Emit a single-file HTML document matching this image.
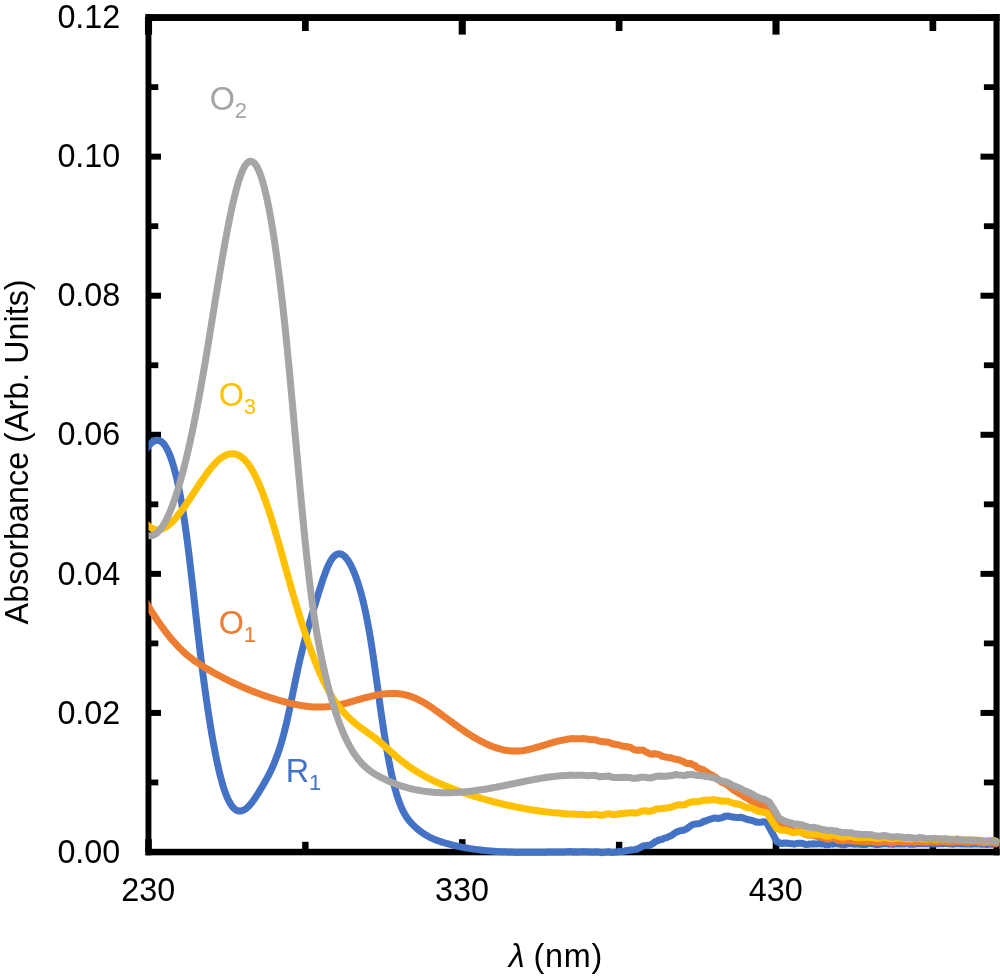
<!DOCTYPE html>
<html lang="en"><head><meta charset="utf-8"><title>Absorbance spectra</title>
<style>html,body{margin:0;padding:0;background:#fff}svg{display:block}</style></head>
<body>
<svg width="1000" height="978" viewBox="0 0 1000 978">
<rect width="1000" height="978" fill="#fff"/>
<g fill="#000"><rect x="144.95" y="17" width="7.1" height="17.6"/><rect x="145.20" y="839.2" width="6.6" height="12.8"/><rect x="302.02" y="17" width="6.7" height="14.0"/><rect x="302.18" y="841.8" width="6.4" height="10.2"/><rect x="458.70" y="17" width="7.1" height="17.6"/><rect x="458.95" y="839.2" width="6.6" height="12.8"/><rect x="615.77" y="17" width="6.7" height="14.0"/><rect x="615.92" y="841.8" width="6.4" height="10.2"/><rect x="772.45" y="17" width="7.1" height="17.6"/><rect x="772.70" y="839.2" width="6.6" height="12.8"/><rect x="929.52" y="17" width="6.7" height="14.0"/><rect x="929.67" y="841.8" width="6.4" height="10.2"/><rect x="148" y="849.00" width="13.0" height="6.0"/><rect x="980.5" y="849.00" width="16.5" height="6.0"/><rect x="148" y="779.57" width="10.3" height="5.8"/><rect x="983.9" y="779.57" width="13.1" height="5.8"/><rect x="148" y="709.93" width="13.0" height="6.0"/><rect x="980.5" y="709.93" width="16.5" height="6.0"/><rect x="148" y="640.50" width="10.3" height="5.8"/><rect x="983.9" y="640.50" width="13.1" height="5.8"/><rect x="148" y="570.86" width="13.0" height="6.0"/><rect x="980.5" y="570.86" width="16.5" height="6.0"/><rect x="148" y="501.43" width="10.3" height="5.8"/><rect x="983.9" y="501.43" width="13.1" height="5.8"/><rect x="148" y="431.79" width="13.0" height="6.0"/><rect x="980.5" y="431.79" width="16.5" height="6.0"/><rect x="148" y="362.35" width="10.3" height="5.8"/><rect x="983.9" y="362.35" width="13.1" height="5.8"/><rect x="148" y="292.72" width="13.0" height="6.0"/><rect x="980.5" y="292.72" width="16.5" height="6.0"/><rect x="148" y="223.29" width="10.3" height="5.8"/><rect x="983.9" y="223.29" width="13.1" height="5.8"/><rect x="148" y="153.65" width="13.0" height="6.0"/><rect x="980.5" y="153.65" width="16.5" height="6.0"/><rect x="148" y="84.22" width="10.3" height="5.8"/><rect x="983.9" y="84.22" width="13.1" height="5.8"/><rect x="148" y="14.58" width="13.0" height="6.0"/><rect x="980.5" y="14.58" width="16.5" height="6.0"/><rect x="145.5" y="14.1" width="5.9" height="841.2"/><rect x="993.5" y="14.1" width="6.1" height="841.2"/><rect x="145.5" y="14.1" width="854.1" height="6.9"/><rect x="145.5" y="848.8" width="854.1" height="6.5"/></g>
<clipPath id="c"><rect x="148.5" y="0" width="851.5" height="978"/></clipPath><g clip-path="url(#c)" fill="none" stroke-width="7.0" stroke-linejoin="round" stroke-linecap="round">
<path d="M140.50,456.23 L148.50,446.11 L149.75,444.62 L151.00,443.33 L152.25,442.25 L153.75,441.25 L155.25,440.57 L157.00,440.24 L158.75,440.41 L160.25,440.98 L161.75,441.97 L163.00,443.12 L164.25,444.58 L165.25,445.98 L166.25,447.60 L167.25,449.42 L168.00,450.94 L168.75,452.58 L169.50,454.36 L170.25,456.26 L171.00,458.30 L171.75,460.48 L172.25,462.00 L172.75,463.59 L173.25,465.25 L173.75,466.96 L174.25,468.74 L174.75,470.59 L175.25,472.50 L175.75,474.48 L176.25,476.53 L176.75,478.65 L177.25,480.83 L177.75,483.09 L178.25,485.43 L178.75,487.83 L179.25,490.31 L179.75,492.86 L180.25,495.49 L180.75,498.20 L181.25,500.98 L181.75,503.85 L182.25,506.79 L182.75,509.82 L183.25,512.92 L183.50,514.51 L183.75,516.11 L184.00,517.74 L184.25,519.39 L184.50,521.05 L184.75,522.74 L185.00,524.46 L185.25,526.19 L185.50,527.94 L185.75,529.72 L186.00,531.52 L186.25,533.34 L186.50,535.18 L186.75,537.05 L187.00,538.93 L187.25,540.84 L187.50,542.78 L187.75,544.73 L188.00,546.71 L188.25,548.70 L188.50,550.72 L188.75,552.75 L189.00,554.80 L189.25,556.87 L189.50,558.96 L189.75,561.06 L190.00,563.18 L190.25,565.31 L190.50,567.45 L190.75,569.61 L191.00,571.77 L191.25,573.95 L191.50,576.14 L191.75,578.34 L192.00,580.54 L192.25,582.75 L192.50,584.97 L192.75,587.20 L193.00,589.43 L193.25,591.66 L193.50,593.90 L193.75,596.14 L194.00,598.38 L194.25,600.62 L194.50,602.86 L194.75,605.10 L195.00,607.34 L195.25,609.58 L195.50,611.82 L195.75,614.05 L196.00,616.27 L196.25,618.49 L196.50,620.71 L196.75,622.91 L197.00,625.11 L197.25,627.30 L197.50,629.48 L197.75,631.65 L198.00,633.81 L198.25,635.95 L198.50,638.09 L198.75,640.21 L199.00,642.32 L199.25,644.42 L199.50,646.51 L199.75,648.59 L200.00,650.66 L200.25,652.71 L200.50,654.75 L200.75,656.78 L201.00,658.80 L201.25,660.81 L201.50,662.80 L201.75,664.78 L202.00,666.75 L202.25,668.71 L202.50,670.66 L202.75,672.59 L203.00,674.51 L203.25,676.42 L203.50,678.32 L203.75,680.20 L204.00,682.08 L204.25,683.94 L204.50,685.78 L204.75,687.62 L205.00,689.44 L205.25,691.25 L205.50,693.05 L205.75,694.84 L206.00,696.61 L206.25,698.37 L206.50,700.12 L206.75,701.85 L207.00,703.57 L207.25,705.28 L207.50,706.98 L207.75,708.66 L208.00,710.33 L208.25,711.99 L208.50,713.64 L208.75,715.27 L209.00,716.89 L209.25,718.49 L209.50,720.09 L210.00,723.23 L210.50,726.33 L211.00,729.37 L211.50,732.36 L212.00,735.29 L212.50,738.17 L213.00,740.99 L213.50,743.76 L214.00,746.48 L214.50,749.14 L215.00,751.75 L215.50,754.30 L216.00,756.79 L216.50,759.23 L217.00,761.61 L217.50,763.93 L218.00,766.20 L218.50,768.41 L219.00,770.56 L219.50,772.66 L220.00,774.69 L220.50,776.67 L221.00,778.59 L221.50,780.45 L222.00,782.25 L222.50,783.99 L223.00,785.67 L223.50,787.29 L224.00,788.85 L224.75,791.08 L225.50,793.17 L226.25,795.13 L227.00,796.97 L227.75,798.68 L228.50,800.26 L229.25,801.73 L230.25,803.50 L231.25,805.07 L232.25,806.45 L233.50,807.89 L234.75,809.06 L236.25,810.09 L237.75,810.75 L239.50,811.07 L241.25,810.95 L243.00,810.41 L244.50,809.65 L246.00,808.62 L247.25,807.58 L248.50,806.39 L249.75,805.05 L251.00,803.59 L252.00,802.33 L253.00,801.00 L254.00,799.61 L255.00,798.17 L256.00,796.67 L257.00,795.13 L258.00,793.54 L259.00,791.93 L260.00,790.29 L261.00,788.63 L262.00,786.96 L263.00,785.26 L264.00,783.55 L265.00,781.81 L266.00,780.02 L267.00,778.19 L268.00,776.31 L268.75,774.86 L269.50,773.38 L270.25,771.85 L271.00,770.28 L271.75,768.67 L272.50,767.01 L273.25,765.29 L274.00,763.52 L274.75,761.69 L275.50,759.80 L276.25,757.84 L277.00,755.82 L277.75,753.73 L278.50,751.56 L279.25,749.32 L279.75,747.78 L280.25,746.20 L280.75,744.58 L281.25,742.93 L281.75,741.24 L282.25,739.51 L282.75,737.74 L283.25,735.92 L283.75,734.07 L284.25,732.16 L284.75,730.22 L285.25,728.23 L285.75,726.19 L286.25,724.10 L286.75,721.97 L287.25,719.79 L287.75,717.56 L288.25,715.29 L288.75,712.98 L289.25,710.64 L289.75,708.27 L290.25,705.87 L290.75,703.45 L291.25,701.01 L291.75,698.56 L292.25,696.10 L292.75,693.63 L293.25,691.15 L293.75,688.68 L294.25,686.21 L294.75,683.75 L295.25,681.31 L295.75,678.88 L296.25,676.47 L296.75,674.09 L297.25,671.73 L297.75,669.41 L298.25,667.12 L298.75,664.87 L299.25,662.66 L299.75,660.48 L300.25,658.33 L300.75,656.21 L301.25,654.12 L301.75,652.06 L302.25,650.03 L302.75,648.03 L303.25,646.06 L303.75,644.11 L304.25,642.18 L304.75,640.28 L305.25,638.40 L305.75,636.54 L306.25,634.71 L306.75,632.89 L307.25,631.09 L307.75,629.30 L308.25,627.54 L308.75,625.79 L309.25,624.05 L309.75,622.32 L310.25,620.61 L310.75,618.91 L311.25,617.22 L311.75,615.54 L312.25,613.86 L312.75,612.20 L313.25,610.54 L313.75,608.88 L314.25,607.23 L314.75,605.58 L315.25,603.93 L315.75,602.28 L316.25,600.63 L316.75,598.99 L317.25,597.34 L317.75,595.70 L318.25,594.07 L318.75,592.44 L319.25,590.82 L319.75,589.21 L320.25,587.62 L320.75,586.05 L321.25,584.49 L321.75,582.95 L322.50,580.68 L323.25,578.46 L324.00,576.31 L324.75,574.22 L325.50,572.21 L326.25,570.27 L327.00,568.43 L327.75,566.67 L328.50,565.02 L329.25,563.47 L330.00,562.04 L331.00,560.31 L332.00,558.79 L333.00,557.47 L334.25,556.12 L335.50,555.07 L337.00,554.22 L338.75,553.76 L340.50,553.88 L342.25,554.55 L343.75,555.55 L345.00,556.68 L346.25,558.07 L347.25,559.37 L348.25,560.83 L349.25,562.45 L350.25,564.22 L351.00,565.65 L351.75,567.16 L352.50,568.76 L353.25,570.43 L354.00,572.19 L354.75,574.03 L355.50,575.96 L356.25,577.99 L357.00,580.10 L357.75,582.32 L358.25,583.85 L358.75,585.43 L359.25,587.06 L359.75,588.73 L360.25,590.46 L360.75,592.24 L361.25,594.07 L361.75,595.95 L362.25,597.89 L362.75,599.88 L363.25,601.93 L363.75,604.04 L364.25,606.21 L364.75,608.44 L365.25,610.72 L365.75,613.07 L366.25,615.49 L366.75,617.96 L367.25,620.51 L367.75,623.12 L368.25,625.79 L368.75,628.54 L369.25,631.36 L369.75,634.24 L370.25,637.20 L370.75,640.23 L371.25,643.34 L371.50,644.92 L371.75,646.52 L372.00,648.14 L372.25,649.78 L372.50,651.43 L372.75,653.10 L373.00,654.78 L373.25,656.48 L373.50,658.19 L373.75,659.91 L374.00,661.64 L374.25,663.39 L374.50,665.14 L374.75,666.91 L375.00,668.68 L375.25,670.47 L375.50,672.26 L375.75,674.05 L376.00,675.86 L376.25,677.67 L376.50,679.48 L376.75,681.29 L377.00,683.11 L377.25,684.93 L377.50,686.76 L377.75,688.58 L378.00,690.40 L378.25,692.23 L378.50,694.05 L378.75,695.87 L379.00,697.68 L379.25,699.49 L379.50,701.30 L379.75,703.10 L380.00,704.90 L380.25,706.69 L380.50,708.47 L380.75,710.24 L381.00,712.00 L381.25,713.76 L381.50,715.50 L381.75,717.24 L382.00,718.96 L382.25,720.66 L382.50,722.36 L382.75,724.04 L383.00,725.71 L383.25,727.36 L383.50,729.00 L383.75,730.62 L384.00,732.24 L384.25,733.84 L384.50,735.42 L385.00,738.55 L385.50,741.62 L386.00,744.63 L386.50,747.59 L387.00,750.48 L387.50,753.32 L388.00,756.10 L388.50,758.82 L389.00,761.48 L389.50,764.08 L390.00,766.62 L390.50,769.09 L391.00,771.51 L391.50,773.85 L392.00,776.14 L392.50,778.36 L393.00,780.52 L393.50,782.61 L394.00,784.64 L394.50,786.60 L395.00,788.49 L395.50,790.32 L396.00,792.08 L396.50,793.78 L397.00,795.42 L397.50,797.00 L398.00,798.52 L398.75,800.69 L399.50,802.75 L400.25,804.68 L401.00,806.51 L401.75,808.23 L402.50,809.85 L403.25,811.37 L404.00,812.80 L405.00,814.58 L406.00,816.22 L407.00,817.73 L408.00,819.14 L409.00,820.44 L410.25,821.94 L411.50,823.33 L412.75,824.63 L414.00,825.87 L415.25,827.05 L416.50,828.18 L417.75,829.25 L419.00,830.27 L420.50,831.43 L422.00,832.52 L423.50,833.54 L425.00,834.51 L426.50,835.41 L428.00,836.26 L429.50,837.06 L431.00,837.81 L432.50,838.51 L434.00,839.17 L435.50,839.79 L437.00,840.37 L438.75,841.02 L440.50,841.62 L442.25,842.18 L444.00,842.72 L445.75,843.24 L447.50,843.73 L449.25,844.21 L451.00,844.67 L452.75,845.11 L454.50,845.53 L456.25,845.94 L458.00,846.33 L459.75,846.70 L461.50,847.06 L463.25,847.41 L465.00,847.73 L466.75,848.05 L468.50,848.35 L470.25,848.63 L472.00,848.90 L473.75,849.16 L475.50,849.40 L477.25,849.64 L479.00,849.85 L480.75,850.06 L482.50,850.26 L484.25,850.44 L486.00,850.61 L487.75,850.77 L489.50,850.92 L491.25,851.07 L493.00,851.20 L494.75,851.32 L496.50,851.43 L498.25,851.54 L500.00,851.63 L501.75,851.72 L503.50,851.80 L505.25,851.87 L507.00,851.94 L508.75,851.99 L510.50,852.05 L512.25,852.09 L514.00,852.13 L515.75,852.17 L517.50,852.19 L519.25,852.22 L521.00,852.23 L522.75,852.25 L524.50,852.26 L526.25,852.26 L528.00,852.26 L529.75,852.26 L531.50,852.25 L533.25,852.24 L535.00,852.23 L536.75,852.22 L538.50,852.20 L540.25,852.18 L542.00,852.17 L543.75,852.16 L545.50,852.14 L547.25,852.06 L549.00,851.97 L550.75,852.01 L552.50,851.97 L554.25,852.00 L556.00,852.00 L557.75,851.97 L559.50,851.92 L561.25,851.95 L563.00,851.94 L564.75,851.91 L566.50,851.74 L568.25,851.72 L570.00,851.57 L571.75,851.65 L573.50,851.88 L575.25,851.80 L577.00,852.05 L578.75,851.88 L580.50,851.86 L582.25,851.59 L584.00,851.69 L585.75,851.70 L587.50,851.71 L589.25,852.12 L591.00,852.03 L592.75,852.06 L594.50,852.09 L596.25,851.83 L598.00,852.06 L599.75,852.03 L601.50,852.66 L603.25,852.23 L605.00,852.23 L606.75,852.05 L608.50,851.64 L610.25,852.14 L612.00,852.42 L613.75,852.36 L615.50,852.13 L617.25,851.95 L619.00,851.52 L620.75,851.37 L622.50,851.54 L624.25,851.26 L626.00,850.58 L627.75,850.69 L629.50,850.25 L631.25,849.85 L633.00,849.92 L634.75,849.63 L636.50,849.25 L638.25,848.56 L640.00,847.86 L641.75,846.63 L643.50,845.77 L645.25,845.77 L647.00,845.27 L648.75,845.54 L650.25,845.12 L651.75,844.05 L653.25,843.37 L654.75,842.00 L656.25,841.28 L657.75,840.74 L659.25,839.72 L660.75,839.72 L662.25,839.31 L663.75,838.32 L665.25,837.98 L666.75,837.57 L668.25,836.85 L669.75,836.19 L671.25,835.59 L672.75,834.65 L674.25,833.39 L675.75,832.43 L677.25,831.59 L678.75,831.31 L680.25,830.63 L681.75,830.35 L683.25,830.38 L684.75,829.63 L686.25,828.98 L687.75,827.98 L689.25,826.96 L690.75,825.69 L692.25,824.75 L693.75,824.37 L695.25,823.95 L696.75,823.95 L698.25,823.61 L700.00,823.42 L701.75,822.58 L703.50,821.30 L705.25,821.31 L707.00,820.16 L708.75,819.82 L710.50,819.09 L712.25,818.63 L714.00,818.06 L715.75,817.96 L717.50,818.54 L719.25,818.23 L721.00,818.01 L722.75,817.50 L724.50,816.30 L726.25,816.25 L728.00,816.03 L729.75,816.43 L731.50,816.75 L733.25,817.23 L735.00,817.30 L736.75,817.40 L738.50,817.62 L740.25,817.29 L742.00,817.63 L743.75,818.17 L745.50,818.87 L747.25,819.33 L749.00,819.95 L750.75,820.09 L752.50,820.57 L754.25,821.13 L756.00,822.12 L757.75,822.22 L759.50,822.33 L761.25,822.30 L763.00,821.72 L764.75,822.05 L766.50,822.42 L771.80,832.00 L776.90,841.79 L782.00,843.58 L783.75,843.07 L785.50,843.29 L787.25,843.04 L789.00,843.61 L790.75,843.62 L792.50,843.83 L794.25,844.15 L796.00,843.72 L797.75,843.33 L799.50,843.37 L801.25,843.14 L803.00,843.53 L804.75,844.18 L806.50,844.43 L808.25,844.29 L810.00,844.04 L811.75,843.92 L813.50,843.67 L815.25,843.94 L817.00,843.92 L818.75,843.56 L820.50,843.79 L822.25,843.92 L824.00,843.96 L825.75,844.68 L827.50,844.64 L829.25,844.55 L831.00,843.90 L832.75,844.16 L834.50,843.48 L836.25,843.55 L838.00,844.02 L839.75,843.98 L841.50,844.71 L843.25,844.72 L845.00,844.68 L846.75,844.22 L848.50,843.73 L850.25,843.84 L852.00,843.70 L853.75,844.22 L855.50,844.18 L857.25,843.89 L859.00,844.24 L860.75,844.38 L862.50,844.58 L864.25,844.24 L866.00,844.41 L867.75,843.77 L869.50,843.53 L871.25,843.67 L873.00,844.05 L874.75,844.08 L876.50,844.66 L878.25,844.42 L880.00,844.21 L881.75,844.04 L883.50,843.86 L885.25,843.68 L887.00,843.75 L888.75,844.19 L890.50,843.85 L892.25,844.22 L894.00,844.29 L895.75,843.72 L897.50,844.03 L899.25,843.83 L901.00,843.89 L902.75,843.89 L904.50,843.89 L906.25,843.81 L908.00,843.37 L909.75,844.25 L911.50,844.06 L913.25,844.16 L915.00,844.21 L916.75,843.70 L918.50,843.56 L920.25,843.69 L922.00,843.79 L923.75,843.82 L925.50,843.82 L927.25,843.83 L929.00,843.71 L930.75,843.73 L932.50,844.01 L934.25,843.71 L936.00,843.91 L937.75,843.81 L939.50,843.81 L941.25,843.78 L943.00,843.87 L944.75,843.57 L946.50,843.61 L948.25,843.89 L950.00,844.11 L951.75,843.84 L953.50,844.22 L955.25,843.52 L957.00,843.77 L958.75,843.84 L960.50,843.97 L962.25,844.00 L964.00,843.79 L965.75,844.15 L967.50,843.72 L969.25,844.12 L971.00,844.24 L972.75,843.91 L974.50,844.08 L976.25,843.92 L978.00,844.01 L979.75,844.13 L981.50,844.18 L983.25,844.37 L985.00,844.11 L986.75,844.60 L988.50,844.14 L990.25,844.14 L992.00,844.22 L993.75,844.09 L995.50,844.03 L996.00,844.06" stroke="#4472C4"/>
<path d="M140.50,593.49 L148.50,606.54 L149.50,608.16 L150.50,609.76 L151.50,611.35 L152.50,612.92 L153.50,614.46 L154.50,616.00 L155.50,617.51 L156.50,619.00 L157.50,620.47 L158.50,621.93 L159.50,623.37 L160.50,624.78 L161.50,626.18 L162.50,627.56 L163.50,628.92 L164.50,630.25 L165.50,631.57 L166.50,632.87 L167.50,634.15 L168.50,635.41 L169.75,636.95 L171.00,638.46 L172.25,639.94 L173.50,641.39 L174.75,642.81 L176.00,644.19 L177.25,645.53 L178.50,646.85 L179.75,648.13 L181.00,649.38 L182.25,650.59 L183.50,651.77 L184.75,652.91 L186.00,654.02 L187.25,655.10 L188.50,656.14 L189.75,657.16 L191.25,658.34 L192.75,659.48 L194.25,660.58 L195.75,661.65 L197.25,662.69 L198.75,663.69 L200.25,664.68 L201.75,665.63 L203.25,666.57 L204.75,667.48 L206.25,668.38 L207.75,669.27 L209.25,670.14 L210.75,671.00 L212.25,671.86 L213.75,672.70 L215.25,673.53 L216.75,674.36 L218.25,675.17 L219.75,675.97 L221.25,676.77 L222.75,677.55 L224.25,678.33 L225.75,679.10 L227.25,679.85 L228.75,680.60 L230.25,681.34 L231.75,682.07 L233.25,682.78 L234.75,683.49 L236.25,684.19 L237.75,684.88 L239.25,685.56 L240.75,686.24 L242.25,686.90 L243.75,687.55 L245.25,688.20 L246.75,688.83 L248.25,689.46 L249.75,690.07 L251.25,690.68 L252.75,691.28 L254.25,691.87 L255.75,692.45 L257.25,693.02 L258.75,693.58 L260.50,694.22 L262.25,694.85 L264.00,695.47 L265.75,696.08 L267.50,696.67 L269.25,697.26 L271.00,697.83 L272.75,698.39 L274.50,698.93 L276.25,699.47 L278.00,699.99 L279.75,700.50 L281.50,701.00 L283.25,701.49 L285.00,701.96 L286.75,702.42 L288.50,702.86 L290.25,703.28 L292.00,703.69 L293.75,704.08 L295.50,704.45 L297.25,704.80 L299.00,705.13 L300.75,705.44 L302.50,705.72 L304.25,705.98 L306.00,706.22 L307.75,706.43 L309.50,706.61 L311.25,706.76 L313.00,706.89 L314.75,706.98 L316.50,707.05 L318.25,707.08 L320.00,707.08 L321.75,707.05 L323.50,706.98 L325.25,706.88 L327.00,706.74 L328.75,706.57 L330.50,706.35 L332.25,706.10 L334.00,705.82 L335.75,705.51 L337.50,705.16 L339.25,704.79 L341.00,704.40 L342.75,703.98 L344.50,703.55 L346.25,703.09 L348.00,702.63 L349.75,702.15 L351.50,701.66 L353.25,701.17 L355.00,700.67 L356.75,700.17 L358.50,699.67 L360.25,699.17 L362.00,698.68 L363.75,698.19 L365.50,697.72 L367.25,697.25 L369.00,696.81 L370.75,696.38 L372.50,695.97 L374.25,695.58 L376.00,695.22 L377.75,694.88 L379.50,694.57 L381.25,694.30 L383.00,694.06 L384.75,693.86 L386.50,693.69 L388.25,693.56 L390.00,693.48 L391.75,693.44 L393.50,693.45 L395.25,693.50 L397.00,693.61 L398.75,693.77 L400.50,693.98 L402.25,694.25 L404.00,694.58 L405.75,694.96 L407.50,695.41 L409.25,695.93 L411.00,696.50 L412.75,697.15 L414.25,697.76 L415.75,698.41 L417.25,699.10 L418.75,699.83 L420.25,700.61 L421.75,701.42 L423.25,702.26 L424.75,703.14 L426.25,704.05 L427.75,704.98 L429.25,705.95 L430.75,706.93 L432.25,707.94 L433.75,708.97 L435.25,710.02 L436.75,711.09 L438.25,712.16 L439.75,713.25 L441.25,714.35 L442.75,715.46 L444.25,716.58 L445.75,717.69 L447.25,718.81 L448.75,719.93 L450.25,721.05 L451.75,722.16 L453.25,723.27 L454.75,724.37 L456.25,725.45 L457.75,726.53 L459.25,727.60 L460.75,728.65 L462.25,729.69 L463.75,730.72 L465.25,731.73 L466.75,732.72 L468.25,733.70 L469.75,734.66 L471.25,735.61 L472.75,736.53 L474.25,737.43 L475.75,738.32 L477.25,739.18 L478.75,740.01 L480.25,740.83 L481.75,741.62 L483.25,742.39 L484.75,743.13 L486.25,743.84 L487.75,744.52 L489.25,745.18 L490.75,745.80 L492.25,746.40 L493.75,746.97 L495.50,747.58 L497.25,748.16 L499.00,748.68 L500.75,749.16 L502.50,749.59 L504.25,749.97 L506.00,750.30 L507.75,750.57 L509.50,750.79 L511.25,750.96 L513.00,751.06 L514.75,751.11 L516.50,751.10 L518.25,751.03 L520.00,750.89 L521.75,750.71 L523.50,750.47 L525.25,750.19 L527.00,749.86 L528.75,749.49 L530.50,749.09 L532.25,748.66 L534.00,748.20 L535.75,747.71 L537.50,747.21 L539.25,746.68 L541.00,746.15 L542.75,745.60 L544.50,745.07 L546.25,744.53 L548.00,743.97 L549.75,743.41 L551.50,742.91 L553.25,742.36 L555.00,741.81 L556.75,741.44 L558.50,740.98 L560.25,740.61 L562.00,740.19 L563.75,739.93 L565.50,739.57 L567.25,739.24 L569.00,739.05 L570.75,738.67 L572.50,738.59 L574.25,738.67 L576.00,738.78 L577.75,738.78 L579.50,738.68 L581.25,738.86 L583.00,738.55 L584.75,738.69 L586.50,738.96 L588.25,739.25 L590.00,739.60 L591.75,739.68 L593.50,739.77 L595.25,739.85 L597.00,740.27 L598.75,740.96 L600.50,741.31 L602.25,741.72 L604.00,741.83 L605.75,741.91 L607.50,741.93 L609.25,742.58 L611.00,743.28 L612.75,743.99 L614.50,744.07 L616.25,744.62 L618.00,744.65 L619.75,745.07 L621.50,745.91 L623.25,746.19 L625.00,746.64 L626.75,746.51 L628.50,747.13 L630.25,747.21 L632.00,748.33 L633.75,749.50 L635.50,749.86 L637.25,750.41 L639.00,750.07 L640.75,750.14 L642.50,749.94 L644.25,750.68 L646.00,752.04 L647.75,752.60 L649.50,753.71 L651.25,753.94 L653.00,754.22 L654.75,753.62 L656.50,754.07 L658.25,754.35 L660.00,754.78 L661.75,756.04 L663.50,756.53 L665.25,757.08 L667.00,757.21 L668.75,757.80 L670.50,757.67 L672.25,758.26 L674.00,758.90 L675.75,759.23 L677.50,759.55 L679.25,759.83 L681.00,760.81 L682.75,761.18 L684.50,762.43 L686.25,763.27 L688.00,763.40 L689.50,763.65 L691.00,763.52 L692.50,764.60 L694.00,765.24 L695.50,765.84 L697.00,767.49 L698.50,768.12 L700.00,768.58 L701.50,769.50 L703.00,769.61 L704.50,770.69 L706.00,771.57 L707.50,772.32 L709.00,773.96 L710.50,774.55 L712.00,774.82 L713.50,776.23 L715.00,776.77 L716.50,778.02 L718.00,779.37 L719.50,780.38 L721.00,781.96 L722.50,782.70 L724.00,782.87 L725.50,784.02 L727.00,784.65 L728.50,785.78 L730.00,787.11 L731.50,788.34 L733.00,789.82 L734.50,790.67 L736.00,791.35 L737.50,792.49 L739.00,793.28 L740.50,794.16 L742.00,795.13 L743.50,795.94 L745.00,797.26 L746.50,797.88 L748.00,798.52 L749.50,799.84 L751.00,800.58 L752.50,801.26 L754.00,802.16 L755.50,802.56 L757.00,803.48 L758.50,803.89 L760.00,804.32 L761.50,805.49 L763.25,805.68 L765.00,806.52 L766.75,806.70 L771.50,812.56 L776.00,820.77 L782.00,826.02 L783.50,825.99 L785.00,826.79 L786.50,827.40 L788.00,827.66 L789.50,828.88 L791.25,829.95 L793.00,830.64 L794.75,831.00 L796.50,831.04 L798.25,831.34 L800.00,831.16 L801.75,832.46 L803.50,833.39 L805.25,834.37 L807.00,834.85 L808.75,835.24 L810.50,835.12 L812.25,834.93 L814.00,835.87 L815.75,836.13 L817.50,836.63 L819.25,836.74 L821.00,837.40 L822.75,837.38 L824.50,838.08 L826.25,838.89 L828.00,838.70 L829.75,838.94 L831.50,838.51 L833.25,838.60 L835.00,838.67 L836.75,839.47 L838.50,840.46 L840.25,840.38 L842.00,840.86 L843.75,840.42 L845.50,840.39 L847.25,840.06 L849.00,840.41 L850.75,840.85 L852.50,840.68 L854.25,841.29 L856.00,841.32 L857.75,841.31 L859.50,841.37 L861.25,841.49 L863.00,841.60 L864.75,841.37 L866.50,841.72 L868.25,841.55 L870.00,841.42 L871.75,841.45 L873.50,841.91 L875.25,842.02 L877.00,842.31 L878.75,842.43 L880.50,842.32 L882.25,841.65 L884.00,841.55 L885.75,841.69 L887.50,841.43 L889.25,842.33 L891.00,842.81 L892.75,842.75 L894.50,842.33 L896.25,841.86 L898.00,841.77 L899.75,841.60 L901.50,842.06 L903.25,842.28 L905.00,842.05 L906.75,842.25 L908.50,842.20 L910.25,842.11 L912.00,842.07 L913.75,842.32 L915.50,842.17 L917.25,841.73 L919.00,841.82 L920.75,841.96 L922.50,842.05 L924.25,842.08 L926.00,842.17 L927.75,841.98 L929.50,841.60 L931.25,841.79 L933.00,841.80 L934.75,841.90 L936.50,842.21 L938.25,842.14 L940.00,841.64 L941.75,841.66 L943.50,841.82 L945.25,841.74 L947.00,841.90 L948.75,842.32 L950.50,842.16 L952.25,841.91 L954.00,842.01 L955.75,841.85 L957.50,841.85 L959.25,841.50 L961.00,841.82 L962.75,841.82 L964.50,842.12 L966.25,842.60 L968.00,842.45 L969.75,842.34 L971.50,841.81 L973.25,841.87 L975.00,841.57 L976.75,841.99 L978.50,842.69 L980.25,842.75 L982.00,842.81 L983.75,843.02 L985.50,842.77 L987.25,842.52 L989.00,842.63 L990.75,842.76 L992.50,842.87 L994.25,842.90 L996.00,843.58" stroke="#ED7D31"/>
<path d="M140.50,519.07 L148.50,525.99 L150.00,527.16 L151.50,528.11 L153.00,528.83 L154.75,529.40 L156.50,529.68 L158.25,529.70 L160.00,529.46 L161.75,528.98 L163.25,528.39 L164.75,527.63 L166.25,526.73 L167.75,525.68 L169.25,524.49 L170.50,523.40 L171.75,522.23 L173.00,520.99 L174.25,519.66 L175.50,518.27 L176.75,516.81 L178.00,515.29 L179.00,514.04 L180.00,512.75 L181.00,511.43 L182.00,510.08 L183.00,508.70 L184.00,507.30 L185.00,505.88 L186.00,504.43 L187.00,502.97 L188.00,501.49 L189.00,500.00 L190.00,498.49 L191.00,496.98 L192.00,495.46 L193.00,493.93 L194.00,492.40 L195.00,490.87 L196.00,489.34 L197.00,487.82 L198.00,486.30 L199.00,484.79 L200.00,483.29 L201.00,481.80 L202.00,480.32 L203.00,478.87 L204.00,477.43 L205.00,476.01 L206.00,474.62 L207.00,473.25 L208.00,471.91 L209.00,470.61 L210.00,469.33 L211.25,467.78 L212.50,466.29 L213.75,464.87 L215.00,463.51 L216.25,462.22 L217.50,461.00 L218.75,459.87 L220.00,458.82 L221.50,457.68 L223.00,456.67 L224.50,455.80 L226.00,455.07 L227.50,454.49 L229.25,454.00 L231.00,453.73 L232.75,453.68 L234.50,453.86 L236.25,454.27 L238.00,454.93 L239.50,455.70 L241.00,456.65 L242.50,457.80 L243.75,458.91 L245.00,460.16 L246.25,461.55 L247.50,463.08 L248.50,464.42 L249.50,465.86 L250.50,467.38 L251.50,469.01 L252.50,470.73 L253.50,472.54 L254.25,473.95 L255.00,475.42 L255.75,476.94 L256.50,478.50 L257.25,480.11 L258.00,481.77 L258.75,483.48 L259.50,485.23 L260.25,487.02 L261.00,488.86 L261.75,490.75 L262.50,492.67 L263.25,494.64 L264.00,496.65 L264.75,498.70 L265.50,500.79 L266.25,502.92 L267.00,505.09 L267.75,507.30 L268.50,509.54 L269.25,511.82 L269.75,513.36 L270.25,514.92 L270.75,516.49 L271.25,518.08 L271.75,519.68 L272.25,521.29 L272.75,522.92 L273.25,524.56 L273.75,526.22 L274.25,527.89 L274.75,529.56 L275.25,531.25 L275.75,532.95 L276.25,534.66 L276.75,536.38 L277.25,538.11 L277.75,539.85 L278.25,541.59 L278.75,543.35 L279.25,545.10 L279.75,546.87 L280.25,548.64 L280.75,550.41 L281.25,552.19 L281.75,553.98 L282.25,555.77 L282.75,557.56 L283.25,559.35 L283.75,561.15 L284.25,562.94 L284.75,564.74 L285.25,566.54 L285.75,568.33 L286.25,570.13 L286.75,571.93 L287.25,573.72 L287.75,575.51 L288.25,577.30 L288.75,579.08 L289.25,580.86 L289.75,582.64 L290.25,584.41 L290.75,586.17 L291.25,587.93 L291.75,589.69 L292.25,591.43 L292.75,593.17 L293.25,594.90 L293.75,596.62 L294.25,598.34 L294.75,600.04 L295.25,601.74 L295.75,603.43 L296.25,605.11 L296.75,606.78 L297.25,608.45 L297.75,610.10 L298.25,611.75 L298.75,613.39 L299.25,615.02 L299.75,616.63 L300.25,618.25 L300.75,619.85 L301.25,621.44 L301.75,623.02 L302.25,624.59 L302.75,626.15 L303.25,627.70 L303.75,629.25 L304.25,630.78 L304.75,632.30 L305.50,634.56 L306.25,636.80 L307.00,639.02 L307.75,641.21 L308.50,643.37 L309.25,645.51 L310.00,647.63 L310.75,649.72 L311.50,651.78 L312.25,653.82 L313.00,655.82 L313.75,657.80 L314.50,659.76 L315.25,661.68 L316.00,663.58 L316.75,665.45 L317.50,667.28 L318.25,669.09 L319.00,670.87 L319.75,672.62 L320.50,674.34 L321.25,676.02 L322.00,677.67 L322.75,679.30 L323.50,680.89 L324.25,682.44 L325.00,683.97 L325.75,685.46 L326.50,686.91 L327.25,688.34 L328.25,690.18 L329.25,691.97 L330.25,693.71 L331.25,695.39 L332.25,697.01 L333.25,698.59 L334.25,700.11 L335.25,701.59 L336.25,703.02 L337.25,704.41 L338.25,705.75 L339.25,707.05 L340.25,708.31 L341.50,709.83 L342.75,711.29 L344.00,712.69 L345.25,714.05 L346.50,715.35 L347.75,716.61 L349.00,717.82 L350.25,718.99 L351.50,720.12 L352.75,721.22 L354.00,722.28 L355.25,723.32 L356.50,724.33 L358.00,725.51 L359.50,726.66 L361.00,727.78 L362.50,728.89 L364.00,729.98 L365.50,731.06 L367.00,732.14 L368.50,733.22 L370.00,734.31 L371.50,735.41 L373.00,736.52 L374.50,737.65 L376.00,738.81 L377.50,740.00 L378.75,741.02 L380.00,742.07 L381.25,743.13 L382.50,744.22 L383.75,745.32 L385.00,746.43 L386.25,747.56 L387.50,748.68 L388.75,749.81 L390.00,750.95 L391.25,752.07 L392.50,753.19 L393.75,754.31 L395.00,755.40 L396.25,756.49 L397.50,757.55 L398.75,758.59 L400.00,759.61 L401.25,760.61 L402.75,761.79 L404.25,762.94 L405.75,764.06 L407.25,765.16 L408.75,766.23 L410.25,767.27 L411.75,768.29 L413.25,769.29 L414.75,770.26 L416.25,771.21 L417.75,772.14 L419.25,773.04 L420.75,773.93 L422.25,774.79 L423.75,775.63 L425.25,776.46 L426.75,777.26 L428.25,778.05 L429.75,778.82 L431.25,779.57 L432.75,780.30 L434.25,781.02 L435.75,781.73 L437.25,782.41 L438.75,783.09 L440.25,783.75 L441.75,784.40 L443.25,785.03 L444.75,785.66 L446.25,786.27 L447.75,786.87 L449.25,787.46 L450.75,788.04 L452.25,788.61 L453.75,789.17 L455.50,789.82 L457.25,790.46 L459.00,791.09 L460.75,791.71 L462.50,792.32 L464.25,792.92 L466.00,793.52 L467.75,794.10 L469.50,794.68 L471.25,795.25 L473.00,795.81 L474.75,796.36 L476.50,796.91 L478.25,797.44 L480.00,797.97 L481.75,798.49 L483.50,799.00 L485.25,799.50 L487.00,800.00 L488.75,800.48 L490.50,800.96 L492.25,801.43 L494.00,801.89 L495.75,802.34 L497.50,802.78 L499.25,803.22 L501.00,803.65 L502.75,804.07 L504.50,804.48 L506.25,804.88 L508.00,805.28 L509.75,805.66 L511.50,806.04 L513.25,806.41 L515.00,806.77 L516.75,807.13 L518.50,807.47 L520.25,807.81 L522.00,808.14 L523.75,808.46 L525.50,808.78 L527.25,809.08 L529.00,809.38 L530.75,809.67 L532.50,809.95 L534.25,810.22 L536.00,810.48 L537.75,810.74 L539.50,810.99 L541.25,811.23 L543.00,811.47 L544.75,811.70 L546.50,811.88 L548.25,812.11 L550.00,812.34 L551.75,812.52 L553.50,812.67 L555.25,812.87 L557.00,812.99 L558.75,813.08 L560.50,813.30 L562.25,813.50 L564.00,813.68 L565.75,813.84 L567.50,814.01 L569.25,813.93 L571.00,814.02 L572.75,814.05 L574.50,814.29 L576.25,814.36 L578.00,814.49 L579.75,814.42 L581.50,814.57 L583.25,814.54 L585.00,814.63 L586.75,814.87 L588.50,814.88 L590.25,814.76 L592.00,814.61 L593.75,814.36 L595.50,814.27 L597.25,814.70 L599.00,814.94 L600.75,815.26 L602.50,815.11 L604.25,814.84 L606.00,814.05 L607.75,813.86 L609.50,813.80 L611.25,814.38 L613.00,814.43 L614.75,814.62 L616.50,814.32 L618.25,814.23 L620.00,813.62 L621.75,813.61 L623.50,813.53 L625.25,813.33 L627.00,813.01 L628.75,812.97 L630.50,812.70 L632.25,812.75 L634.00,813.01 L635.75,812.94 L637.50,812.72 L639.25,812.02 L641.00,811.53 L642.75,810.88 L644.50,810.81 L646.25,810.65 L648.00,811.46 L649.75,811.10 L651.50,811.02 L653.25,810.39 L655.00,809.70 L656.75,808.77 L658.50,808.80 L660.25,808.70 L662.00,808.57 L663.75,808.32 L665.50,808.15 L667.25,807.88 L669.00,807.57 L670.75,807.17 L672.50,806.58 L674.25,806.17 L676.00,805.18 L677.75,805.01 L679.50,804.81 L681.25,804.92 L683.00,804.71 L684.75,804.87 L686.50,803.78 L688.25,803.01 L690.00,802.26 L691.75,801.98 L693.50,801.56 L695.25,801.83 L697.00,801.61 L698.75,801.50 L700.50,801.04 L702.25,800.50 L704.00,800.15 L705.75,800.13 L707.50,800.21 L709.25,800.12 L711.00,800.00 L712.75,799.60 L714.50,799.84 L716.25,799.98 L718.00,800.18 L719.75,800.71 L721.50,801.24 L723.25,800.83 L725.00,800.93 L726.75,801.17 L728.50,801.47 L730.25,802.11 L732.00,802.91 L733.75,803.32 L735.50,803.88 L737.25,803.85 L739.00,804.38 L740.75,804.95 L742.50,805.58 L744.25,806.42 L746.00,807.27 L747.75,807.65 L749.50,807.73 L751.25,808.23 L753.00,808.73 L754.75,809.54 L756.50,810.65 L758.25,811.38 L760.00,811.47 L761.75,811.94 L763.50,812.07 L765.25,812.62 L767.00,812.96 L771.80,820.81 L776.90,828.74 L782.00,830.29 L783.75,830.29 L785.50,830.05 L787.25,830.97 L789.00,831.47 L790.75,831.93 L792.50,832.52 L794.25,832.69 L796.00,832.33 L797.75,832.11 L799.50,831.98 L801.25,832.24 L803.00,832.93 L804.75,833.39 L806.50,834.15 L808.25,834.19 L810.00,834.36 L811.75,834.03 L813.50,834.40 L815.25,834.18 L817.00,834.32 L818.75,834.37 L820.50,834.54 L822.25,834.77 L824.00,835.59 L825.75,836.05 L827.50,836.19 L829.25,836.04 L831.00,835.81 L832.75,835.10 L834.50,835.07 L836.25,835.40 L838.00,836.24 L839.75,836.86 L841.50,837.12 L843.25,837.35 L845.00,837.11 L846.75,836.32 L848.50,836.14 L850.25,836.53 L852.00,836.42 L853.75,837.09 L855.50,837.62 L857.25,837.78 L859.00,837.55 L860.75,837.82 L862.50,837.45 L864.25,837.48 L866.00,837.12 L867.75,837.32 L869.50,837.44 L871.25,837.55 L873.00,837.93 L874.75,838.32 L876.50,838.50 L878.25,838.29 L880.00,838.37 L881.75,837.86 L883.50,837.42 L885.25,837.52 L887.00,838.07 L888.75,838.22 L890.50,838.87 L892.25,838.66 L894.00,838.81 L895.75,838.42 L897.50,838.36 L899.25,838.16 L901.00,838.32 L902.75,838.10 L904.50,838.45 L906.25,838.70 L908.00,838.81 L909.75,838.72 L911.50,838.95 L913.25,838.78 L915.00,838.39 L916.75,838.49 L918.50,838.32 L920.25,838.62 L922.00,838.81 L923.75,839.24 L925.50,839.07 L927.25,839.18 L929.00,838.71 L930.75,838.84 L932.50,838.72 L934.25,839.03 L936.00,839.20 L937.75,839.26 L939.50,838.82 L941.25,839.05 L943.00,839.08 L944.75,839.07 L946.50,839.38 L948.25,839.75 L950.00,839.57 L951.75,839.34 L953.50,839.52 L955.25,839.11 L957.00,839.28 L958.75,839.32 L960.50,839.74 L962.25,839.70 L964.00,839.88 L965.75,839.76 L967.50,840.02 L969.25,839.91 L971.00,839.94 L972.75,839.96 L974.50,840.01 L976.25,839.91 L978.00,840.21 L979.75,840.21 L981.50,840.51 L983.25,840.85 L985.00,841.15 L986.75,840.79 L988.50,840.75 L990.25,840.69 L992.00,840.53 L993.75,840.78 L995.50,840.77 L996.00,841.02" stroke="#FFC000"/>
<path d="M140.50,534.17 L148.50,535.72 L150.25,535.87 L152.00,535.63 L153.75,535.01 L155.25,534.18 L156.75,533.07 L158.00,531.94 L159.25,530.63 L160.50,529.12 L161.50,527.78 L162.50,526.32 L163.50,524.75 L164.50,523.06 L165.50,521.25 L166.25,519.82 L167.00,518.32 L167.75,516.76 L168.50,515.13 L169.25,513.44 L170.00,511.68 L170.75,509.86 L171.50,507.98 L172.25,506.04 L173.00,504.03 L173.75,501.96 L174.50,499.82 L175.25,497.63 L176.00,495.37 L176.50,493.83 L177.00,492.26 L177.50,490.67 L178.00,489.05 L178.50,487.40 L179.00,485.72 L179.50,484.02 L180.00,482.29 L180.50,480.54 L181.00,478.75 L181.50,476.94 L182.00,475.11 L182.50,473.24 L183.00,471.36 L183.50,469.44 L184.00,467.50 L184.50,465.53 L185.00,463.54 L185.50,461.52 L186.00,459.47 L186.50,457.40 L187.00,455.30 L187.50,453.18 L188.00,451.03 L188.50,448.85 L189.00,446.65 L189.50,444.43 L190.00,442.18 L190.50,439.90 L191.00,437.60 L191.50,435.27 L192.00,432.92 L192.50,430.54 L193.00,428.14 L193.50,425.72 L194.00,423.27 L194.50,420.79 L195.00,418.29 L195.50,415.76 L196.00,413.21 L196.50,410.64 L197.00,408.04 L197.50,405.42 L198.00,402.77 L198.50,400.10 L199.00,397.41 L199.50,394.69 L200.00,391.95 L200.50,389.18 L201.00,386.39 L201.50,383.58 L202.00,380.74 L202.50,377.88 L203.00,375.00 L203.50,372.10 L204.00,369.17 L204.50,366.23 L205.00,363.27 L205.50,360.29 L206.00,357.30 L206.50,354.30 L207.00,351.28 L207.50,348.24 L208.00,345.20 L208.50,342.15 L209.00,339.08 L209.50,336.01 L210.00,332.93 L210.50,329.85 L211.00,326.76 L211.50,323.67 L212.00,320.58 L212.50,317.48 L213.00,314.39 L213.50,311.29 L214.00,308.20 L214.50,305.11 L215.00,302.02 L215.50,298.94 L216.00,295.87 L216.50,292.80 L217.00,289.74 L217.50,286.69 L218.00,283.65 L218.50,280.63 L219.00,277.61 L219.50,274.61 L220.00,271.63 L220.50,268.66 L221.00,265.71 L221.50,262.77 L222.00,259.86 L222.50,256.97 L223.00,254.10 L223.50,251.25 L224.00,248.42 L224.50,245.62 L225.00,242.85 L225.50,240.10 L226.00,237.38 L226.50,234.69 L227.00,232.03 L227.50,229.40 L228.00,226.81 L228.50,224.25 L229.00,221.72 L229.50,219.23 L230.00,216.77 L230.50,214.36 L231.00,211.98 L231.50,209.64 L232.00,207.35 L232.50,205.09 L233.00,202.88 L233.50,200.72 L234.00,198.60 L234.50,196.53 L235.00,194.50 L235.50,192.53 L236.00,190.60 L236.50,188.73 L237.00,186.90 L237.50,185.13 L238.00,183.42 L238.50,181.76 L239.00,180.16 L239.50,178.61 L240.25,176.40 L241.00,174.33 L241.75,172.40 L242.50,170.61 L243.25,168.97 L244.00,167.48 L245.00,165.74 L246.00,164.28 L247.25,162.85 L248.75,161.72 L250.50,161.21 L252.25,161.58 L253.75,162.58 L255.00,163.90 L256.00,165.27 L257.00,166.93 L257.75,168.35 L258.50,169.94 L259.25,171.68 L260.00,173.58 L260.75,175.64 L261.50,177.86 L262.00,179.43 L262.50,181.07 L263.00,182.77 L263.50,184.55 L264.00,186.40 L264.50,188.31 L265.00,190.30 L265.50,192.36 L266.00,194.48 L266.50,196.68 L267.00,198.95 L267.50,201.28 L268.00,203.69 L268.50,206.16 L269.00,208.71 L269.50,211.33 L270.00,214.01 L270.50,216.76 L271.00,219.59 L271.50,222.48 L272.00,225.45 L272.50,228.48 L273.00,231.58 L273.50,234.75 L273.75,236.36 L274.00,237.99 L274.25,239.64 L274.50,241.30 L274.75,242.98 L275.00,244.68 L275.25,246.40 L275.50,248.13 L275.75,249.88 L276.00,251.65 L276.25,253.43 L276.50,255.23 L276.75,257.05 L277.00,258.89 L277.25,260.74 L277.50,262.62 L277.75,264.50 L278.00,266.41 L278.25,268.33 L278.50,270.27 L278.75,272.23 L279.00,274.21 L279.25,276.20 L279.50,278.21 L279.75,280.23 L280.00,282.28 L280.25,284.34 L280.50,286.42 L280.75,288.51 L281.00,290.63 L281.25,292.76 L281.50,294.90 L281.75,297.07 L282.00,299.25 L282.25,301.45 L282.50,303.66 L282.75,305.90 L283.00,308.15 L283.25,310.41 L283.50,312.70 L283.75,315.00 L284.00,317.32 L284.25,319.66 L284.50,322.01 L284.75,324.38 L285.00,326.77 L285.25,329.17 L285.50,331.59 L285.75,334.03 L286.00,336.49 L286.25,338.96 L286.50,341.45 L286.75,343.96 L287.00,346.48 L287.25,349.01 L287.50,351.56 L287.75,354.12 L288.00,356.70 L288.25,359.29 L288.50,361.89 L288.75,364.51 L289.00,367.13 L289.25,369.77 L289.50,372.42 L289.75,375.08 L290.00,377.75 L290.25,380.43 L290.50,383.12 L290.75,385.81 L291.00,388.52 L291.25,391.23 L291.50,393.95 L291.75,396.68 L292.00,399.42 L292.25,402.16 L292.50,404.90 L292.75,407.66 L293.00,410.41 L293.25,413.17 L293.50,415.94 L293.75,418.71 L294.00,421.48 L294.25,424.25 L294.50,427.03 L294.75,429.81 L295.00,432.58 L295.25,435.37 L295.50,438.15 L295.75,440.93 L296.00,443.71 L296.25,446.49 L296.50,449.27 L296.75,452.04 L297.00,454.82 L297.25,457.59 L297.50,460.36 L297.75,463.12 L298.00,465.88 L298.25,468.64 L298.50,471.39 L298.75,474.14 L299.00,476.88 L299.25,479.62 L299.50,482.35 L299.75,485.07 L300.00,487.79 L300.25,490.49 L300.50,493.19 L300.75,495.88 L301.00,498.56 L301.25,501.23 L301.50,503.90 L301.75,506.55 L302.00,509.19 L302.25,511.82 L302.50,514.43 L302.75,517.04 L303.00,519.63 L303.25,522.21 L303.50,524.77 L303.75,527.33 L304.00,529.86 L304.25,532.39 L304.50,534.89 L304.75,537.39 L305.00,539.86 L305.25,542.32 L305.50,544.76 L305.75,547.19 L306.00,549.60 L306.25,551.99 L306.50,554.36 L306.75,556.71 L307.00,559.04 L307.25,561.35 L307.50,563.64 L307.75,565.91 L308.00,568.16 L308.25,570.39 L308.50,572.59 L308.75,574.77 L309.00,576.93 L309.25,579.07 L309.50,581.18 L309.75,583.27 L310.00,585.34 L310.25,587.38 L310.50,589.41 L310.75,591.41 L311.00,593.38 L311.25,595.34 L311.50,597.27 L311.75,599.18 L312.00,601.06 L312.25,602.93 L312.50,604.77 L312.75,606.59 L313.00,608.39 L313.25,610.16 L313.50,611.91 L313.75,613.64 L314.00,615.35 L314.25,617.04 L314.50,618.70 L314.75,620.34 L315.00,621.96 L315.25,623.56 L315.75,626.70 L316.25,629.75 L316.75,632.73 L317.25,635.63 L317.75,638.46 L318.25,641.22 L318.75,643.92 L319.25,646.56 L319.75,649.14 L320.25,651.67 L320.75,654.14 L321.25,656.57 L321.75,658.95 L322.25,661.29 L322.75,663.59 L323.25,665.85 L323.75,668.09 L324.25,670.29 L324.75,672.46 L325.25,674.60 L325.75,676.70 L326.25,678.78 L326.75,680.83 L327.25,682.84 L327.75,684.83 L328.25,686.78 L328.75,688.71 L329.25,690.60 L329.75,692.47 L330.25,694.31 L330.75,696.12 L331.25,697.90 L331.75,699.65 L332.25,701.38 L332.75,703.08 L333.25,704.75 L333.75,706.39 L334.25,708.01 L334.75,709.60 L335.25,711.16 L335.75,712.70 L336.50,714.96 L337.25,717.16 L338.00,719.31 L338.75,721.40 L339.50,723.43 L340.25,725.42 L341.00,727.35 L341.75,729.23 L342.50,731.05 L343.25,732.83 L344.00,734.56 L344.75,736.24 L345.50,737.87 L346.25,739.46 L347.00,741.00 L347.75,742.50 L348.50,743.95 L349.50,745.82 L350.50,747.62 L351.50,749.34 L352.50,750.99 L353.50,752.58 L354.50,754.10 L355.50,755.55 L356.50,756.94 L357.50,758.28 L358.50,759.55 L359.75,761.07 L361.00,762.50 L362.25,763.85 L363.50,765.13 L364.75,766.34 L366.00,767.48 L367.25,768.56 L368.50,769.58 L370.00,770.73 L371.50,771.81 L373.00,772.83 L374.50,773.79 L376.00,774.70 L377.50,775.56 L379.00,776.39 L380.50,777.18 L382.00,777.96 L383.50,778.71 L385.00,779.44 L386.50,780.14 L388.00,780.83 L389.50,781.49 L391.00,782.13 L392.50,782.74 L394.00,783.34 L395.50,783.92 L397.25,784.56 L399.00,785.18 L400.75,785.77 L402.50,786.33 L404.25,786.87 L406.00,787.38 L407.75,787.87 L409.50,788.32 L411.25,788.76 L413.00,789.17 L414.75,789.55 L416.50,789.91 L418.25,790.25 L420.00,790.56 L421.75,790.85 L423.50,791.12 L425.25,791.36 L427.00,791.59 L428.75,791.79 L430.50,791.97 L432.25,792.13 L434.00,792.27 L435.75,792.39 L437.50,792.49 L439.25,792.57 L441.00,792.64 L442.75,792.68 L444.50,792.71 L446.25,792.72 L448.00,792.71 L449.75,792.68 L451.50,792.64 L453.25,792.58 L455.00,792.51 L456.75,792.42 L458.50,792.32 L460.25,792.20 L462.00,792.07 L463.75,791.92 L465.50,791.76 L467.25,791.59 L469.00,791.40 L470.75,791.20 L472.50,790.99 L474.25,790.77 L476.00,790.54 L477.75,790.30 L479.50,790.04 L481.25,789.78 L483.00,789.50 L484.75,789.22 L486.50,788.93 L488.25,788.63 L490.00,788.32 L491.75,788.00 L493.50,787.68 L495.25,787.35 L497.00,787.01 L498.75,786.67 L500.50,786.32 L502.25,785.97 L504.00,785.62 L505.75,785.26 L507.50,784.89 L509.25,784.53 L511.00,784.17 L512.75,783.80 L514.50,783.43 L516.25,783.07 L518.00,782.71 L519.75,782.34 L521.50,781.98 L523.25,781.62 L525.00,781.27 L526.75,780.92 L528.50,780.58 L530.25,780.24 L532.00,779.90 L533.75,779.57 L535.50,779.25 L537.25,778.94 L539.00,778.64 L540.75,778.35 L542.50,778.06 L544.25,777.78 L546.00,777.50 L547.75,777.23 L549.50,777.02 L551.25,776.79 L553.00,776.62 L554.75,776.38 L556.50,776.16 L558.25,775.88 L560.00,775.86 L561.75,775.79 L563.50,775.68 L565.25,775.52 L567.00,775.42 L568.75,775.28 L570.50,775.04 L572.25,775.22 L574.00,775.24 L575.75,775.39 L577.50,775.25 L579.25,775.31 L581.00,775.14 L582.75,775.13 L584.50,775.43 L586.25,775.62 L588.00,775.80 L589.75,775.54 L591.50,775.62 L593.25,775.42 L595.00,775.51 L596.75,775.80 L598.50,776.32 L600.25,776.87 L602.00,776.53 L603.75,776.61 L605.50,776.31 L607.25,776.19 L609.00,775.98 L610.75,776.87 L612.50,777.28 L614.25,777.45 L616.00,777.46 L617.75,777.55 L619.50,777.45 L621.25,777.19 L623.00,777.46 L624.75,777.30 L626.50,777.55 L628.25,777.55 L630.00,777.55 L631.75,778.00 L633.50,778.26 L635.25,778.43 L637.00,777.97 L638.75,777.91 L640.50,777.28 L642.25,777.20 L644.00,777.16 L645.75,777.35 L647.50,777.74 L649.25,777.84 L651.00,777.96 L652.75,777.17 L654.50,777.04 L656.25,776.30 L658.00,776.32 L659.75,776.01 L661.50,776.25 L663.25,776.23 L665.00,776.28 L666.75,776.31 L668.50,775.87 L670.25,775.86 L672.00,775.47 L673.75,775.14 L675.50,774.45 L677.25,774.72 L679.00,774.95 L680.75,775.12 L682.50,775.29 L684.25,775.38 L686.00,775.29 L687.75,774.51 L689.50,774.71 L691.25,774.30 L693.00,774.80 L694.75,774.98 L696.50,775.31 L698.25,775.61 L700.00,775.60 L701.75,775.75 L703.50,775.84 L705.25,776.57 L707.00,776.36 L708.75,776.81 L710.50,777.16 L712.25,777.57 L714.00,777.81 L715.75,778.57 L717.50,779.74 L719.25,779.98 L721.00,780.73 L722.75,781.07 L724.25,781.55 L725.75,781.70 L727.25,782.20 L728.75,783.33 L730.25,783.88 L731.75,784.81 L733.25,785.63 L734.75,785.96 L736.25,786.92 L737.75,787.24 L739.25,787.87 L740.75,788.73 L742.25,789.41 L743.75,790.36 L745.25,791.05 L746.75,791.40 L748.25,792.53 L749.75,792.87 L751.25,793.56 L752.75,794.39 L754.25,795.23 L755.75,796.48 L757.25,796.87 L758.75,797.53 L760.25,798.30 L761.75,798.69 L763.25,799.10 L764.75,799.49 L766.25,800.32 L767.75,801.43 L769.25,801.82 L774.90,810.86 L779.00,817.90 L784.10,821.06 L785.85,821.40 L787.60,822.09 L789.35,822.54 L791.10,822.99 L792.85,823.47 L794.60,824.09 L796.35,824.03 L798.10,824.17 L799.85,824.65 L801.60,824.74 L803.35,825.52 L805.10,826.05 L806.85,826.73 L808.60,827.16 L810.35,827.52 L812.10,827.43 L813.85,827.24 L815.60,827.95 L817.35,827.93 L819.10,828.52 L820.85,829.02 L822.60,829.72 L824.35,829.76 L826.10,830.10 L827.85,830.41 L829.60,830.47 L831.35,830.33 L833.10,830.66 L834.85,831.04 L836.60,831.05 L838.35,831.83 L840.10,832.01 L841.85,832.75 L843.60,832.66 L845.35,832.51 L847.10,832.71 L848.85,832.66 L850.60,832.77 L852.35,832.99 L854.10,833.72 L855.85,833.93 L857.60,833.96 L859.35,834.30 L861.10,834.70 L862.85,834.43 L864.60,834.45 L866.35,834.85 L868.10,834.46 L869.85,834.61 L871.60,834.83 L873.35,835.56 L875.10,835.63 L876.85,836.06 L878.60,836.30 L880.35,835.87 L882.10,835.76 L883.85,835.52 L885.60,835.79 L887.35,836.04 L889.10,836.71 L890.85,836.74 L892.60,837.15 L894.35,836.92 L896.10,836.61 L897.85,836.84 L899.60,836.86 L901.35,837.23 L903.10,837.15 L904.85,837.55 L906.60,837.42 L908.35,837.32 L910.10,837.53 L911.85,837.75 L913.60,838.09 L915.35,838.16 L917.10,838.19 L918.85,837.58 L920.60,837.79 L922.35,837.69 L924.10,838.24 L925.85,838.61 L927.60,838.85 L929.35,838.76 L931.10,838.39 L932.85,838.67 L934.60,838.30 L936.35,838.58 L938.10,838.94 L939.85,839.09 L941.60,839.02 L943.35,838.99 L945.10,838.93 L946.85,838.87 L948.60,839.47 L950.35,839.25 L952.10,839.73 L953.85,839.65 L955.60,839.38 L957.35,839.07 L959.10,839.57 L960.85,839.79 L962.60,839.80 L964.35,840.36 L966.10,840.25 L967.85,840.17 L969.60,839.81 L971.35,840.25 L973.10,840.28 L974.85,840.27 L976.60,840.52 L978.35,840.53 L980.10,840.81 L981.85,840.80 L983.60,841.29 L985.35,841.26 L987.10,841.36 L988.85,840.99 L990.60,841.04 L992.35,841.07 L994.10,841.10 L995.85,841.59 L996.00,841.71" stroke="#A5A5A5"/>
</g>
<text x="120.3" y="862.6" text-anchor="end" font-family="Liberation Sans, Arial, Helvetica, sans-serif" font-size="32.35">0.00</text>
<text x="120.3" y="723.5" text-anchor="end" font-family="Liberation Sans, Arial, Helvetica, sans-serif" font-size="32.35">0.02</text>
<text x="120.3" y="584.5" text-anchor="end" font-family="Liberation Sans, Arial, Helvetica, sans-serif" font-size="32.35">0.04</text>
<text x="120.3" y="445.4" text-anchor="end" font-family="Liberation Sans, Arial, Helvetica, sans-serif" font-size="32.35">0.06</text>
<text x="120.3" y="306.3" text-anchor="end" font-family="Liberation Sans, Arial, Helvetica, sans-serif" font-size="32.35">0.08</text>
<text x="120.3" y="167.3" text-anchor="end" font-family="Liberation Sans, Arial, Helvetica, sans-serif" font-size="32.35">0.10</text>
<text x="120.3" y="28.2" text-anchor="end" font-family="Liberation Sans, Arial, Helvetica, sans-serif" font-size="32.35">0.12</text>
<text x="148.2" y="901.2" text-anchor="middle" font-family="Liberation Sans, Arial, Helvetica, sans-serif" font-size="32.35">230</text>
<text x="461.9" y="901.2" text-anchor="middle" font-family="Liberation Sans, Arial, Helvetica, sans-serif" font-size="32.35">330</text>
<text x="775.7" y="901.2" text-anchor="middle" font-family="Liberation Sans, Arial, Helvetica, sans-serif" font-size="32.35">430</text>
<text transform="translate(27.8,624.4) rotate(-90)" font-family="Liberation Sans, Arial, Helvetica, sans-serif" font-size="32.35">Absorbance (Arb. Units)</text>
<text x="508.8" y="967.2" font-style="italic" font-family="Liberation Sans, Arial, Helvetica, sans-serif" font-size="32.35">λ</text>
<text x="533.4" y="967.2" letter-spacing="0.8" font-family="Liberation Sans, Arial, Helvetica, sans-serif" font-size="32.35">(nm)</text>
<text x="209.7" y="110.3" fill="#A5A5A5" font-family="Liberation Sans, Arial, Helvetica, sans-serif" font-size="32.35">O<tspan font-size="22" dy="7.8">2</tspan></text>
<text x="218.7" y="406" fill="#FFC000" font-family="Liberation Sans, Arial, Helvetica, sans-serif" font-size="32.35">O<tspan font-size="22" dy="7.8">3</tspan></text>
<text x="218.7" y="633.8" fill="#ED7D31" font-family="Liberation Sans, Arial, Helvetica, sans-serif" font-size="32.35">O<tspan font-size="22" dy="7.8">1</tspan></text>
<text x="285.7" y="781.8" fill="#4472C4" font-family="Liberation Sans, Arial, Helvetica, sans-serif" font-size="32.35">R<tspan font-size="22" dy="7.8">1</tspan></text>
</svg>
</body></html>
